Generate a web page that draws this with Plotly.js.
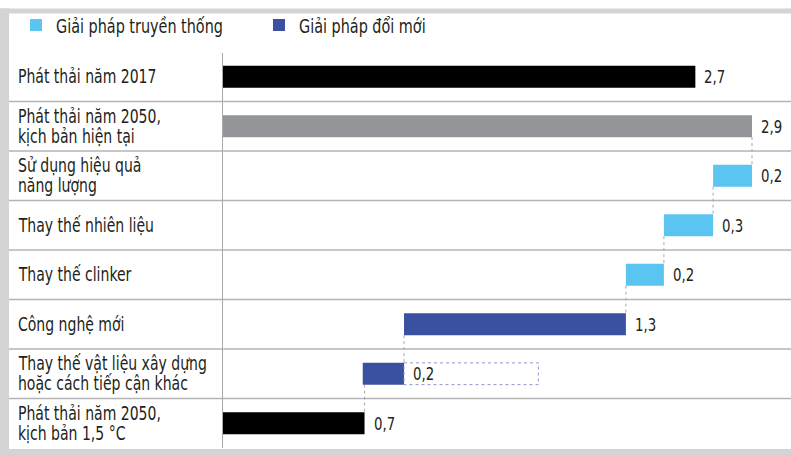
<!DOCTYPE html>
<html><head><meta charset="utf-8">
<script src="https://cdn.plot.ly/plotly-3.0.1.min.js"></script>
<style>
html,body{margin:0;padding:0;background:#fff}
/* the reference uses a condensed face: narrow the installed condensed face a little more */
#chart .annotation-text, #chart .legendtext { transform-box: fill-box; transform-origin: 0 50%; transform: scaleX(0.8); }
</style>
</head><body><div id="chart" style="width:791px;height:455px"></div>
<script>
// ---- data ----
const categories = [
  "Phát thải năm 2017",
  "Phát thải năm 2050,<br>kịch bản hiện tại",
  "Sử dụng hiệu quả<br>năng lượng",
  "Thay thế nhiên liệu",
  "Thay thế clinker",
  "Công nghệ mới",
  "Thay thế vật liệu xây dựng<br>hoặc cách tiếp cận khác",
  "Phát thải năm 2050,<br>kịch bản 1,5 °C"
];
const measures = ["absolute","absolute","relative","relative","relative","relative","relative","absolute"];
// bar lengths as drawn in the picture (the drawing is not exactly to scale with the labels)
const drawnValues = [2.59, 2.9, -0.213, -0.269, -0.208, -1.214, -0.226, 0.78];
const valueLabels = ["2,7","2,9","0,2","0,3","0,2","1,3","0,2","0,7"];
const groups = ["current","baseline","traditional","traditional","traditional","innovative","innovative","target"];
const legendNames = {traditional: "Giải pháp truyền thống", innovative: "Giải pháp đổi mới"};

// ---- styles ----
const FONT = "'DejaVu Sans Condensed', 'DejaVu Sans', sans-serif";
const TXT = "#231f20";
const colors = {current:"#000000", baseline:"#939598", traditional:"#5bc5f1", innovative:"#3a50a0", target:"#000000"};
const W = 791, H = 455, ML = 222, MR = 6, MT = 48, MB = 7;
const PW = W - ML - MR, PH = H - MT - MB;
const px2x = p => (p - ML) / PW;
const px2y = p => (H - MB - p) / PH;
const BAR_W = 0.44;

// waterfall geometry
let running = 0;
const bases = [], lengths = [], ends = [];
drawnValues.forEach((v, i) => {
  if (measures[i] === "absolute") { bases.push(0); lengths.push(v); running = v; }
  else { const b = running + v; bases.push(b); lengths.push(-v); running = b; }
  ends.push(bases[i] + lengths[i]);
});

function traceFor(keys, name, showlegend) {
  const idx = categories.map((c, i) => i).filter(i => keys.includes(groups[i]));
  return {
    type: "bar", orientation: "h",
    y: idx.map(i => categories[i]), x: idx.map(i => lengths[i]), base: idx.map(i => bases[i]),
    width: BAR_W,
    marker: {color: idx.map(i => colors[groups[i]]), line: {width: 0}},
    name: name || "", showlegend: !!showlegend, hoverinfo: "skip"
  };
}
const data = [
  traceFor(["current","baseline","target"], "", false),
  traceFor(["traditional"], legendNames.traditional, true),
  traceFor(["innovative"], legendNames.innovative, true)
];

const shapes = [];
const frameC = "#d4d4d5";
shapes.push({type:"rect", xref:"paper", yref:"paper", x0:px2x(0), x1:px2x(9), y0:px2y(455), y1:px2y(4), fillcolor:frameC, line:{width:0}, layer:"below"});
shapes.push({type:"rect", xref:"paper", yref:"paper", x0:px2x(0), x1:px2x(791), y0:px2y(9), y1:px2y(4), fillcolor:frameC, line:{width:0}, layer:"below"});
shapes.push({type:"rect", xref:"paper", yref:"paper", x0:px2x(0), x1:px2x(791), y0:px2y(455), y1:px2y(449), fillcolor:frameC, line:{width:0}, layer:"below"});
// row separators
for (let k = 0; k < categories.length - 1; k++) {
  shapes.push({type:"line", xref:"paper", yref:"y", x0:px2x(9), x1:px2x(791), y0:k + 0.5, y1:k + 0.5, line:{color:"#b4b4b5", width:1.5}, layer:"below"});
}
// zero axis line
shapes.push({type:"line", xref:"x", yref:"paper", x0:0, x1:0, y0:0, y1:px2y(49), line:{color:"#a7a9ac", width:2}, layer:"above"});
// waterfall connectors
for (let k = 1; k < categories.length - 1; k++) {
  shapes.push({type:"line", xref:"x", yref:"y", x0:ends[k+1], x1:ends[k+1], y0:k + BAR_W/2, y1:k + 1 - BAR_W/2, line:{color:"#a7a9ac", width:1, dash:"dot"}, layer:"below"});
}
// dotted text box beside the last reduction bar
const bi = 6;
shapes.push({type:"rect", xref:"x", yref:"y", x0:ends[bi], x1:ends[bi] + 0.735, y0:bi - BAR_W/2, y1:bi + BAR_W/2, line:{color:"#8f95cc", width:1, dash:"dot"}, fillcolor:"rgba(0,0,0,0)"});

const annotations = [];
const LINE_GAP = 20;
categories.forEach((c, i) => {
  const lines = c.split("<br>");
  lines.forEach((ln, j) => {
    annotations.push({xref:"paper", yref:"y", x:px2x(17), y:i, xanchor:"left", yanchor:"middle",
      text: ln, showarrow:false, align:"left", borderpad:0, yshift: ((lines.length - 1)/2 - j) * LINE_GAP,
      font:{family:FONT, size:19.5, color:TXT}});
  });
  annotations.push({xref:"x", yref:"y", x:ends[i], y:i, xanchor:"left", yanchor:"middle", xshift:8,
    text: valueLabels[i], showarrow:false, borderpad:0, font:{family:FONT, size:18.5, color:TXT}});
});

const layout = {
  width:W, height:H,
  margin:{l:ML, r:MR, t:MT, b:MB, pad:0},
  paper_bgcolor:"#ffffff", plot_bgcolor:"rgba(0,0,0,0)",
  barmode:"overlay",
  xaxis:{range:[0, PW/182.76], visible:false, fixedrange:true},
  yaxis:{type:"category", categoryorder:"array", categoryarray:categories, range:[categories.length - 0.5, -0.5], visible:false, fixedrange:true},
  showlegend:true,
  legend:{orientation:"h", xref:"paper", yref:"paper", x:px2x(16), y:px2y(1), xanchor:"left", yanchor:"top",
    font:{family:FONT, size:20, color:TXT}, entrywidth:198, entrywidthmode:"pixels", bgcolor:"rgba(0,0,0,0)", traceorder:"normal"},
  shapes, annotations
};
Plotly.newPlot("chart", data, layout, {staticPlot:true, displayModeBar:false});
</script></body></html>
